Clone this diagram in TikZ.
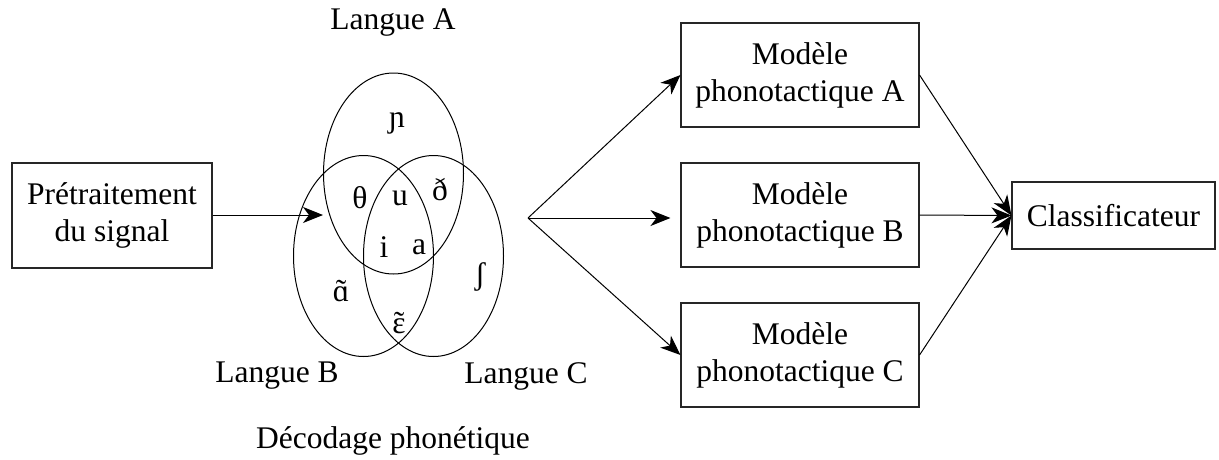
\documentclass[tikz,border=0pt]{standalone}
\usepackage{fontspec}
\setmainfont{Liberation Serif}
\usetikzlibrary{shapes.geometric,arrows.meta}

% nasal vowel: base letter with a tilde set above it
\newcommand{\nasal}[1]{\accent"02DC #1}

\tikzset{
  box/.style={draw=black!85, line width=1.1pt, align=center, inner sep=0pt,
              font=\fontsize{31.5}{37}\selectfont},
  lang/.style={draw, ellipse, line width=1pt, inner sep=0pt,
               minimum width=140pt, minimum height=201pt},
  lbl/.style={font=\fontsize{31.5}{37}\selectfont, inner sep=0pt},
  ipa/.style={font=\fontsize{31.5}{37}\selectfont, inner sep=0pt},
  link/.style={line width=1pt, -{Stealth[length=20pt,width=16pt,inset=6pt]}}
}

\begin{document}
\begin{tikzpicture}[x=1pt,y=-1pt]
  \useasboundingbox (0,0) rectangle (1219,459);

  % input stage
  \node[box, minimum width=200pt, minimum height=105pt] (pre) at (112,215.5)
       {Prétraitement\\du signal};

  % phonetic decoding: three overlapping phone sets
  \node[lang] (setA) at (393.5,173.5) {};
  \node[lang] (setB) at (363.5,256) {};
  \node[lang] (setC) at (433.5,256) {};

  \node[ipa] (pnj) at (397,123) {ɲ};
  \node[ipa] (pth) at (360,198) {θ};
  \node[ipa] (pu)  at (400,198) {u};
  \node[ipa] (peth) at (440,190) {ð};
  \node[ipa] (pi)  at (384,247) {i};
  \node[ipa] (pa)  at (419,247) {a};
  \node[ipa] (psh) at (480,277) {ʃ};
  \node[ipa] (pan) at (341,291) {\nasal{ɑ}};
  \node[ipa] (pen) at (399,323) {\nasal{ɛ}};

  \node[lbl] (labA) at (393,22) {Langue A};
  \node[lbl] (labB) at (277,376) {Langue B};
  \node[lbl] (labC) at (526,376) {Langue C};
  \node[lbl] (labD) at (393,441) {Décodage phonétique};

  \coordinate (vennin) at (323,215);
  \coordinate (fan) at (528,218);

  % phonotactic models
  \node[box, minimum width=238pt, minimum height=104pt] (modA) at (800,75)
       {Modèle\\phonotactique A};
  \node[box, minimum width=238pt, minimum height=104pt] (modB) at (800,215)
       {Modèle\\phonotactique B};
  \node[box, minimum width=238pt, minimum height=104pt] (modC) at (800,355)
       {Modèle\\phonotactique C};

  % decision stage
  \node[box, minimum width=203pt, minimum height=67pt] (cls) at (1113.5,215.5)
       {Classificateur};

  % connectors
  \draw[link] (pre.east |- vennin) -- (vennin);
  \draw[link] (fan) -- (modA.west);
  \draw[link, shorten >=10pt] (fan) -- (modB.west |- fan);
  \draw[link] (fan) -- (modC.west);
  \draw[link] (modA.east) -- (cls.west);
  \draw[link] (modB.east) -- (cls.west);
  \draw[link] (modC.east) -- (cls.west);
\end{tikzpicture}
\end{document}
